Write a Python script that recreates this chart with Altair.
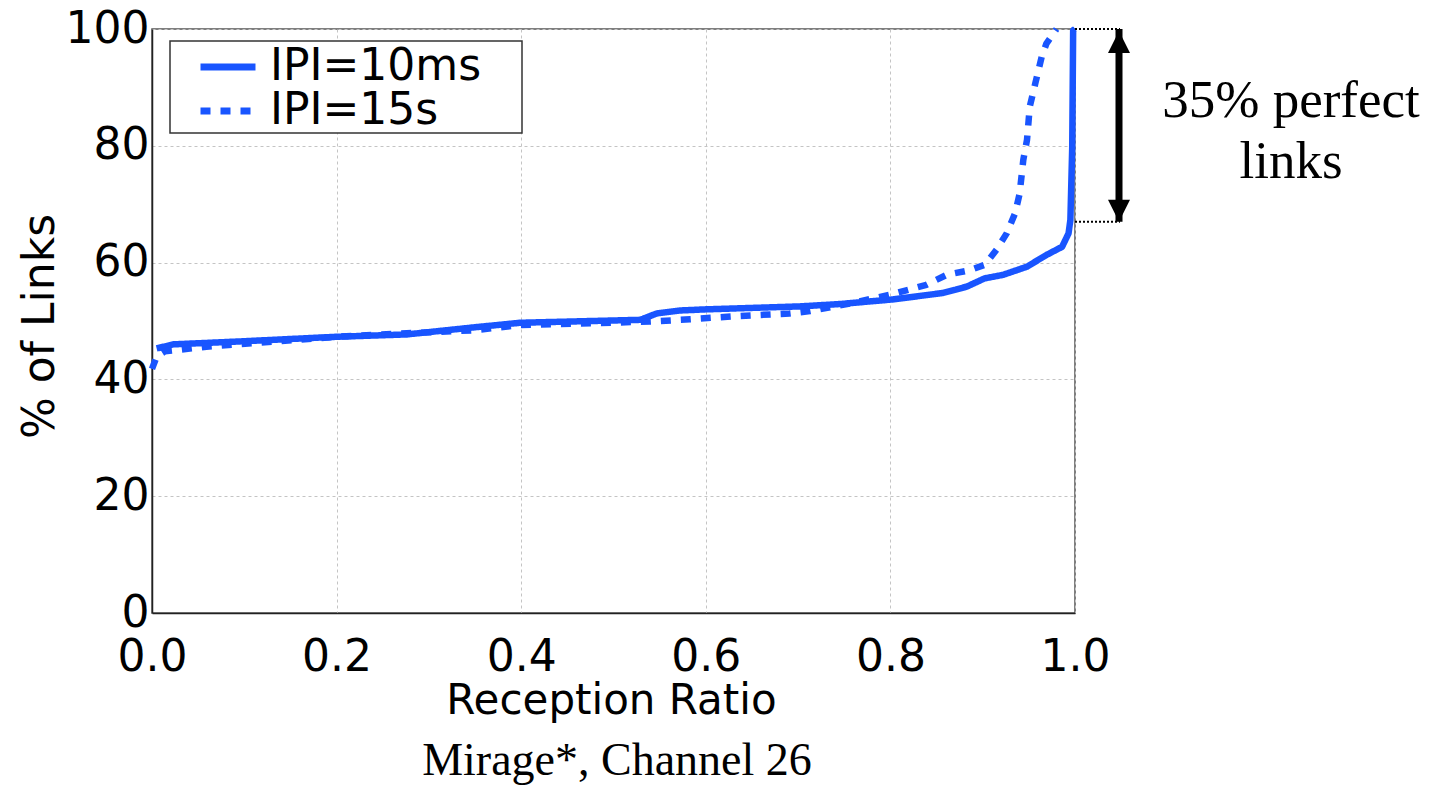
import altair as alt
import pandas as pd

# ---- data ----
solid_x = [0.005, 0.023, 0.095, 0.2, 0.276, 0.348, 0.399, 0.529, 0.547, 0.572, 0.601, 0.702,
           0.745, 0.774, 0.803, 0.857, 0.883, 0.902, 0.922, 0.948, 0.969, 0.986, 0.993, 0.995,
           0.997, 0.998, 1.0]
solid_y = [45.3, 46.0, 46.5, 47.3, 47.7, 48.9, 49.7, 50.2, 51.3, 51.8, 52.0, 52.5,
           52.9, 53.3, 53.7, 54.8, 55.9, 57.3, 57.9, 59.3, 61.3, 62.7, 65.0, 67.3,
           79.8, 99.8, 100.0]
dash_x = [0.0, 0.005, 0.014, 0.059, 0.2, 0.276, 0.348, 0.399, 0.54, 0.583, 0.63, 0.691,
          0.713, 0.756, 0.80, 0.839, 0.861, 0.886, 0.902, 0.915, 0.926, 0.935, 0.940, 0.944,
          0.948, 0.951, 0.957, 0.964, 0.969, 0.980]
dash_y = [41.8, 43.9, 44.8, 45.6, 47.3, 47.9, 48.4, 49.3, 49.9, 50.3, 50.8, 51.3,
          51.7, 53.0, 54.5, 56.2, 57.9, 58.7, 59.6, 62.2, 65.0, 68.4, 71.8, 77.6,
          81.0, 86.7, 90.7, 95.3, 97.5, 100.0]
series = ["IPI=10ms", "IPI=15s"]
x_ticks = [0.0, 0.2, 0.4, 0.6, 0.8, 1.0]
y_ticks = [0, 20, 40, 60, 80, 100]
perfect_low, perfect_high = 67.0, 100.0
annot_lines = ["35% perfect", "links"]
caption = "Mirage*, Channel 26"

rows = []
for i, (x, y) in enumerate(zip(solid_x, solid_y)):
    rows.append({"ratio": x, "links": y, "series": series[0], "i": i})
for i, (x, y) in enumerate(zip(dash_x, dash_y)):
    rows.append({"ratio": x, "links": y, "series": series[1], "i": i})
df = pd.DataFrame(rows)

BLUE = "#1955ff"
W, H = 923, 584
SANS = "DejaVu Sans"
SERIF = "Liberation Serif"

xscale = alt.Scale(domain=[0, 1], nice=False, zero=False)
yscale = alt.Scale(domain=[0, 100], nice=False)

x_enc = alt.X("ratio:Q", scale=xscale, axis=alt.Axis(
    values=x_ticks, format=".1f", labelFontSize=44, labelFont=SANS, labelColor="black",
    labelPadding=22, ticks=False, tickSize=0, labelFlush=False, labelOverlap=False,
    grid=True, gridDash=[3, 3], gridColor="#c4c4c4", gridWidth=1,
    domainColor="#222", domainWidth=1.5,
    title="Reception Ratio", titleFont=SANS, titleFontSize=42, titleFontWeight="normal",
    titleColor="black", titleBaseline="alphabetic", titleX=459, titleY=100, titleAlign="center"))
y_enc = alt.Y("links:Q", scale=yscale, axis=alt.Axis(
    values=y_ticks, labelFontSize=44, labelFont=SANS, labelColor="black",
    labelPadding=3, ticks=False, tickSize=0, labelFlush=False, labelOverlap=False,
    grid=True, gridDash=[3, 3], gridColor="#c4c4c4", gridWidth=1,
    domainColor="#222", domainWidth=1.5,
    title="% of Links", titleFont=SANS, titleFontSize=44, titleFontWeight="normal",
    titleColor="black", titleBaseline="alphabetic", titleX=-99, titleY=297, titleAlign="center"))

legend_box = alt.Chart(pd.DataFrame({"k": [0]})).mark_rect(
    fill="white", stroke="#333", strokeWidth=1.5
).encode(x=alt.value(18), x2=alt.value(370), y=alt.value(12), y2=alt.value(104))

leg = alt.Legend(orient="none", legendX=48, legendY=16, title=None,
                 symbolType="M-3,0H3", symbolSize=336, symbolStrokeWidth=7, symbolOffset=6,
                 labelFontSize=44, labelFont=SANS, labelColor="black",
                 padding=0, rowPadding=0, labelOffset=20, labelLimit=0)

lines = alt.Chart(df).mark_line(strokeWidth=6.5, strokeCap="butt", strokeJoin="round").encode(
    x=x_enc, y=y_enc,
    color=alt.Color("series:N", scale=alt.Scale(domain=series, range=[BLUE, BLUE]), legend=leg),
    strokeDash=alt.StrokeDash("series:N", scale=alt.Scale(domain=series, range=[[1, 0], [10, 10]]),
                              legend=leg),
    order="i:Q",
)

ann = pd.DataFrame({"lo": [perfect_low], "hi": [perfect_high]})
base_ann = alt.Chart(ann)
lead_hi = base_ann.mark_rule(color="black", strokeWidth=2, strokeDash=[2, 2]).encode(
    y=alt.Y("hi:Q", scale=yscale), x=alt.value(W), x2=alt.value(W + 45))
lead_lo = base_ann.mark_rule(color="black", strokeWidth=2, strokeDash=[2, 2]).encode(
    y=alt.Y("lo:Q", scale=yscale), x=alt.value(W), x2=alt.value(W + 45))
shaft = base_ann.mark_rule(color="black", strokeWidth=7).encode(
    y=alt.Y("lo:Q", scale=yscale), y2="hi:Q", x=alt.value(967))
head_up = base_ann.mark_point(shape="M0,-1L1,1L-1,1Z", size=484, filled=True, color="black",
                              opacity=1, yOffset=13).encode(
    y=alt.Y("hi:Q", scale=yscale), x=alt.value(967))
head_dn = base_ann.mark_point(shape="M0,1L1,-1L-1,-1Z", size=484, filled=True, color="black",
                              opacity=1, yOffset=-11).encode(
    y=alt.Y("lo:Q", scale=yscale), x=alt.value(967))

txt1 = alt.Chart(pd.DataFrame({"t": [annot_lines[0]]})).mark_text(
    font=SERIF, fontSize=53, color="black", align="center", baseline="alphabetic"
).encode(text="t:N", x=alt.value(1139), y=alt.value(88))
txt2 = alt.Chart(pd.DataFrame({"t": [annot_lines[1]]})).mark_text(
    font=SERIF, fontSize=53, color="black", align="center", baseline="alphabetic"
).encode(text="t:N", x=alt.value(1139), y=alt.value(149))
cap = alt.Chart(pd.DataFrame({"t": [caption]})).mark_text(
    font=SERIF, fontSize=46, color="black", align="center", baseline="alphabetic"
).encode(text="t:N", x=alt.value(465), y=alt.value(746))

chart = alt.layer(legend_box, lines, lead_hi, lead_lo, shaft, head_up, head_dn, txt1, txt2, cap).properties(
    width=W, height=H,
    autosize=alt.AutoSizeParams(type="none"),
    padding={"left": 152, "top": 29, "right": 360, "bottom": 173},
    background="white",
).configure_view(stroke="#555", strokeWidth=1.5)

chart.save("out.html", embed_options={"renderer": "svg", "actions": False})
